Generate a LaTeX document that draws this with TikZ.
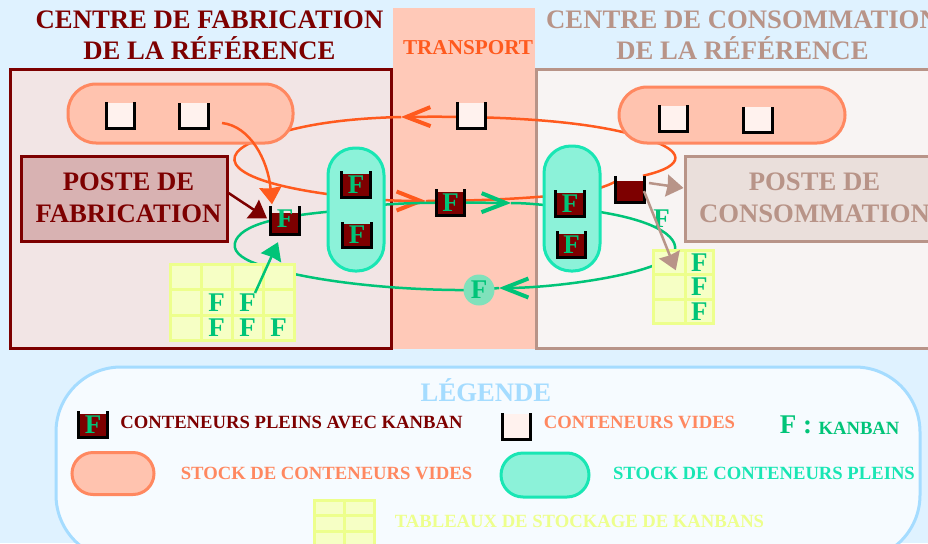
\documentclass[tikz,border=0pt]{standalone}
\usepackage{fontspec}
\setmainfont{Liberation Serif}
\usetikzlibrary{matrix, backgrounds, arrows.meta}

\definecolor{ciel}{HTML}{DFF2FF}
\definecolor{lisere}{HTML}{A5DCFF}
\definecolor{rouge}{HTML}{7D0000}
\definecolor{brun}{HTML}{B89488}
\definecolor{orange}{HTML}{FF5A1E}
\definecolor{saumon}{HTML}{FF8860}
\definecolor{peche}{HTML}{FFC9B8}
\definecolor{creme}{HTML}{FFF2EE}
\definecolor{vert}{HTML}{00C478}
\definecolor{turquoise}{HTML}{19E6B4}
\definecolor{jaune}{HTML}{EDFF8C}

\begin{document}
\begin{tikzpicture}[x=1pt, y=-1pt,
    grand/.style={font=\fontsize{26.7}{31}\selectfont\bfseries, align=center},
    petit/.style={font=\fontsize{18.65}{22}\selectfont\bfseries},
    walls/.style={
        append after command={%
            \pgfextra \draw[black, line width=3pt] ([xshift=-1.5pt,yshift=#1]\tikzlastnode.north west)
                |- ([xshift=1.5pt,yshift=-1.5pt]\tikzlastnode.south east)
                -- ([xshift=1.5pt,yshift=#1]\tikzlastnode.north east); \endpgfextra}},
    convide/.style={fill=creme, inner sep=0pt, minimum width=25.5pt, minimum height=24pt, walls=0pt},
    conplein/.style={fill=rouge, text=vert, inner sep=0pt, minimum width=25.5pt, minimum height=22pt,
        font=\fontsize{27}{27}\selectfont\bfseries, walls=2pt},
    stockvide/.style={draw=saumon, fill=saumon!50, line width=3pt, rounded corners=28pt},
    stockplein/.style={draw=turquoise, fill=turquoise!50, line width=3pt, rounded corners=27pt},
    poste/.style={line width=3pt, minimum height=85pt},
    tabcell/.style={draw=jaune, fill=jaune!50, line width=3pt, anchor=center, inner sep=0pt,
        text=vert, font=\fontsize{27}{27}\selectfont\bfseries},
    kanban/.style={text=vert, inner sep=0pt, font=\fontsize{27}{27}\selectfont\bfseries},
    flux/.style={line width=2.5pt},
    barbe/.style={-{Straight Barb[length=24pt, width=19pt, line width=4pt]}},
    pointe/.style={line width=2.5pt, -{Stealth[length=17pt, width=22pt, inset=1pt]}},
    ]

\useasboundingbox (0,0) rectangle (928,543);

\node[stockvide, minimum width=225pt, minimum height=59pt] (stockvg) at (180.5,113.5) {};
\node[stockvide, minimum width=226pt, minimum height=56pt] (stockvd) at (732,115) {};
\node[stockplein, minimum width=56pt, minimum height=123pt] (stockpg) at (356,209.5) {};
\node[stockplein, minimum width=56pt, minimum height=125pt] (stockpd) at (572,208.5) {};

\node[poste, draw=rouge, fill=rouge!30, minimum width=206pt] (postefab) at (124,198.5) {};
\node[grand, text=rouge] (txtfab) at (128.5,198) {POSTE DE\\[1pt]FABRICATION};
\node[poste, draw=brun, fill=brun!30, minimum width=270pt] (postecons) at (820,199) {};
\node[grand, text=brun] (txtcons) at (814.5,198) {POSTE DE\\[1pt]CONSOMMATION};

\node[convide] (videg1) at (120.5,114.5) {};
\node[convide] (videg2) at (194,115) {};
\node[convide] (videt) at (471.5,114.5) {};
\node[convide] (vided1) at (673.5,117.5) {};
\node[convide] (vided2) at (758,119) {};

\node[conplein] (pleing1) at (356,184.5) {F};
\node[conplein] (pleing2) at (357,235) {F};
\node[conplein] (pleint) at (450.5,202.5) {F};
\node[conplein] (pleind1) at (570,203.5) {F};
\node[conplein] (pleind2) at (571.5,244.5) {F};
\node[conplein, minimum height=20pt, walls=6pt] (confab) at (285,222.5) {};
\node[kanban] (kanfab) at (285,219) {F};
\node[conplein, minimum height=20pt, walls=5pt] (concons) at (630,191) {};
\node[kanban] (kanlibre) at (661.5,219) {F};

\node[circle, fill=vert!50, text=vert, inner sep=0pt, minimum size=31pt, font=\fontsize{27}{27}\selectfont\bfseries] (kanrond) at (479,290) {F};

\matrix (tabg) at (232,302.5) [matrix of nodes, row sep=-3pt, column sep=-3pt,
nodes={tabcell, minimum width=31pt, minimum height=25.3pt}, nodes in empty cells]
{
  & & & \\
  & F & F & \\
  & F & F & F \\
};
\matrix (tabd) at (683.5,287) [matrix of nodes, row sep=-3pt, column sep=-3pt,
nodes={tabcell, minimum height=24.5pt}, nodes in empty cells,
column 1/.style={nodes={minimum width=31.5pt}}, column 2/.style={nodes={minimum width=28.5pt}}]
{
  & F \\
  & F \\
  & F \\
};

\coordinate (barbehaut) at (401,117);
\coordinate (barbemil) at (426,201);
\coordinate (barbevert) at (511,203);
\coordinate (barbebas) at (499,288);

\begin{scope}[on background layer]
\fill[ciel] (0,0) rectangle (928,543);
\fill[peche] (393,8) rectangle (535,349);
\draw[rouge, fill=rouge!10, line width=3pt] (10.5,69.5) rectangle (391,348);
\draw[brun, fill=brun!10, line width=3pt] (536,69.5) rectangle (940,348);
\draw[lisere, fill=lisere!10, line width=3pt] (56,367) [rounded corners=65pt] rectangle (920,560);

\draw[flux, orange, barbe] ([yshift=5pt]concons.north east) .. controls (690,165) and (680,150) .. (650,140)
    .. controls (590,118) and (480,116) .. (barbehaut);
\draw[flux, orange] (barbehaut) .. controls (360,118) and (310,122) .. (270,136)
    .. controls (218,150) and (212,178) .. (327,194);
\draw[flux, orange, barbe] (327,194) .. controls (350,198) and (385,201) .. (barbemil);
\draw[flux, orange] (barbemil) .. controls (470,201) and (520,199) .. (560,195)
    .. controls (580,193) and (600,190) .. (concons.north west);

\draw[flux, vert, barbe] (stockpd.center) .. controls (640,215) and (678,232) .. (675,250)
    .. controls (672,262) and (640,272) .. (600,279) .. controls (565,285) and (530,288) .. (barbebas);
\draw[flux, vert] (barbebas) -- (kanrond.center) .. controls (400,291) and (310,282) .. (257,264)
    .. controls (240,258) and (231,250) .. (236,240) .. controls (245,222) and (290,214) .. (stockpg.center);
\draw[flux, vert, barbe] (stockpg.center) .. controls (375,203) and (420,202) .. (barbevert);
\draw[flux, vert] (barbevert) .. controls (530,203) and (555,206) .. (stockpd.center);
\end{scope}

\coordinate (departvide) at (222,123);
\coordinate (departkan) at (255,293);
\draw[pointe, orange] (departvide) .. controls (250,126) and (268,160) .. ([xshift=-13pt,yshift=8pt]confab.north);
\draw[pointe, rouge] ([yshift=5.5pt]postefab.east) -- ([xshift=-5pt,yshift=4pt]confab.west);
\draw[pointe, vert] (departkan) -- ([xshift=-7pt,yshift=-9.5pt]confab.south);
\draw[pointe, brun] ([xshift=6pt,yshift=8pt]concons.east) -- ([yshift=11pt]postecons.west);
\draw[pointe, brun] ([xshift=1pt]concons.east) -- ([xshift=6.5pt,yshift=6pt]tabd-1-1.south);

\node[grand, text=rouge] (titrefab) at (209.5,35.5) {CENTRE DE FABRICATION\\DE LA RÉFÉRENCE};
\node[grand, text=brun] (titrecons) at (742.5,35.5) {CENTRE DE CONSOMMATION\\DE LA RÉFÉRENCE};
\node[text=orange, font=\fontsize{21.2}{24}\selectfont\bfseries] (titretrans) at (468,48) {TRANSPORT};

\node[grand, text=lisere] (legende) at (486,390) {LÉGENDE};
\node[conplein] (legplein) at (93,424.5) {F};
\node[petit, text=rouge] (txtplein) at (291.5,422) {CONTENEURS PLEINS AVEC KANBAN};
\node[convide] (legvide) at (516.5,425.5) {};
\node[petit, text=saumon] (txtvide) at (639.5,422) {CONTENEURS VIDES};
\node[kanban] (legkan) at (796,425) {F :};
\node[petit, text=vert] (txtkan) at (859,428) {KANBAN};
\node[stockvide, minimum width=82pt, minimum height=42pt, rounded corners=21pt] (legstockv) at (113,473.5) {};
\node[petit, text=saumon] (txtstockv) at (326.5,473) {STOCK DE CONTENEURS VIDES};
\node[stockplein, minimum width=88pt, minimum height=44pt, rounded corners=22pt] (legstockp) at (545,475) {};
\node[petit, text=turquoise] (txtstockp) at (764,473) {STOCK DE CONTENEURS PLEINS};
\matrix (tableg) at (344,523.5) [matrix of nodes, row sep=-3pt, column sep=-3pt,
nodes={tabcell, minimum width=30pt, minimum height=15.5pt}, nodes in empty cells]
{
  & \\
  & \\
  & \\
};
\node[petit, text=jaune] (txttab) at (579.5,521) {TABLEAUX DE STOCKAGE DE KANBANS};
\end{tikzpicture}
\end{document}
